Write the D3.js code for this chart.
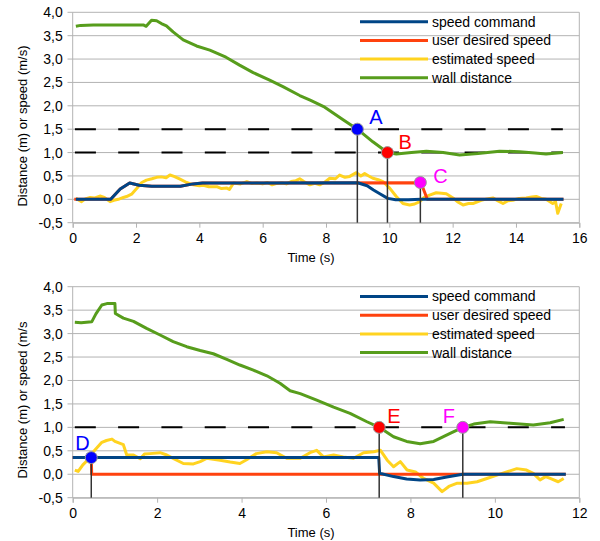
<!DOCTYPE html>
<html><head><meta charset="utf-8">
<script src="https://cdn.jsdelivr.net/npm/d3@7"></script>
<style>body{margin:0;background:#fff} text{font-family:"Liberation Sans",Arial,sans-serif;fill:#000}</style>
</head><body><svg id="c" width="600" height="541"></svg>
<script>
// ---------- shared ----------
const seriesNames = ["speed command", "user desired speed", "estimated speed", "wall distance"];
const yTickValues = [-0.5, 0, 0.5, 1, 1.5, 2, 2.5, 3, 3.5, 4];

// ---------- top chart data ----------
const topXTicks = [0, 2, 4, 6, 8, 10, 12, 14, 16];
const topCmdT = [0.1, 1.2, 1.5, 1.8, 2.1, 2.5, 3.4, 3.8, 4.1, 9.0, 9.3, 9.5, 9.7, 9.95, 10.2, 10.6, 11.0, 15.5];
const topCmdV = [0, 0, 0.22, 0.35, 0.30, 0.28, 0.28, 0.33, 0.35, 0.355, 0.29, 0.20, 0.12, 0.02, -0.01, -0.01, 0.0, 0.0];
const topUserT = [0.05, 1.2, 1.5, 1.8, 2.1, 2.5, 3.4, 3.8, 4.1, 11.0, 11.2, 15.5];
const topUserV = [0, 0, 0.22, 0.35, 0.30, 0.28, 0.28, 0.33, 0.35, 0.355, 0.0, 0.0];
const topEstT = [0.1, 0.28, 0.4, 0.55, 0.7, 0.86, 1.0, 1.18, 1.3, 1.44, 1.6, 1.7, 1.86, 2.02, 2.18, 2.33, 2.5, 2.65, 2.8, 2.95, 3.07, 3.2, 3.39, 3.6, 3.81, 4.0, 4.13, 4.3, 4.55, 4.7, 4.87, 4.95, 5.08, 5.3, 5.5, 5.65, 5.82, 6.0, 6.15, 6.3, 6.45, 6.6, 6.75, 6.9, 7.05, 7.17, 7.3, 7.49, 7.65, 7.8, 7.95, 8.12, 8.3, 8.43, 8.6, 8.75, 8.96, 9.1, 9.22, 9.35, 9.48, 9.65, 9.8, 10.01, 10.22, 10.43, 10.64, 10.8, 10.96, 11.1, 11.27, 11.48, 11.65, 11.8, 12.01, 12.15, 12.33, 12.5, 12.64, 12.9, 13.1, 13.27, 13.45, 13.59, 13.75, 13.9, 14.1, 14.32, 14.5, 14.64, 14.8, 14.95, 15.16, 15.25, 15.32, 15.43];
const topEstV = [0.02, -0.05, 0.01, 0.04, 0.03, 0.07, 0.04, -0.05, -0.02, 0.0, 0.04, 0.06, 0.11, 0.23, 0.36, 0.41, 0.44, 0.47, 0.48, 0.46, 0.52, 0.49, 0.43, 0.36, 0.31, 0.29, 0.30, 0.27, 0.27, 0.23, 0.24, 0.21, 0.35, 0.33, 0.38, 0.34, 0.35, 0.33, 0.36, 0.31, 0.34, 0.35, 0.33, 0.38, 0.40, 0.44, 0.38, 0.31, 0.34, 0.31, 0.36, 0.45, 0.44, 0.52, 0.47, 0.49, 0.57, 0.50, 0.55, 0.50, 0.45, 0.42, 0.38, 0.24, 0.06, -0.09, -0.12, -0.10, -0.05, 0.04, 0.09, 0.14, 0.13, 0.12, 0.03, -0.05, -0.12, -0.09, -0.09, -0.02, 0.01, 0.03, -0.04, -0.09, -0.03, -0.02, 0.02, 0.03, 0.05, 0.06, 0.02, 0.0, -0.09, -0.05, -0.30, -0.09];
const topWallT = [0.1, 0.25, 0.65, 1.5, 2.23, 2.32, 2.49, 2.65, 2.8, 2.96, 3.17, 3.49, 3.91, 4.33, 4.84, 5.27, 5.7, 6.22, 6.64, 7.17, 7.5, 7.96, 8.54, 8.99, 9.48, 9.94, 10.22, 10.7, 11.17, 11.7, 12.22, 12.8, 13.48, 14.11, 14.6, 14.95, 15.48];
const topWallV = [3.70, 3.72, 3.73, 3.73, 3.73, 3.70, 3.83, 3.82, 3.76, 3.71, 3.58, 3.41, 3.28, 3.19, 3.04, 2.87, 2.71, 2.55, 2.41, 2.22, 2.12, 1.97, 1.70, 1.50, 1.23, 1.00, 0.97, 1.00, 1.03, 1.00, 0.95, 0.98, 1.03, 1.02, 0.99, 0.97, 1.00];
const topDashLevels = [1.5, 1.0];
const topDashT = [0.07, 15.48];
const topMarkLabels = ["A", "B", "C"];
const topMarkT = [8.99, 9.94, 10.98];
const topMarkV = [1.5, 1.0, 0.36];

// ---------- bottom chart data ----------
const botXTicks = [0, 2, 4, 6, 8, 10, 12];
const botCmdT = [0.0, 7.25, 7.27, 7.6, 7.91, 8.23, 8.55, 8.86, 9.24, 11.68];
const botCmdV = [0.355, 0.355, 0.02, -0.05, -0.10, -0.12, -0.11, -0.06, 0.0, 0.0];
const botUserT = [0.0, 0.44, 0.45, 11.68];
const botUserV = [0.355, 0.355, 0.0, 0.0];
const botEstT = [0.05, 0.13, 0.24, 0.35, 0.49, 0.69, 0.8, 0.93, 1.0, 1.2, 1.28, 1.44, 1.6, 1.7, 1.83, 2.07, 2.23, 2.38, 2.62, 2.86, 3.02, 3.17, 3.49, 3.73, 3.96, 4.12, 4.35, 4.6, 4.83, 5.07, 5.39, 5.62, 5.78, 5.94, 6.18, 6.41, 6.65, 6.89, 7.13, 7.29, 7.45, 7.6, 7.76, 7.92, 8.12, 8.31, 8.55, 8.75, 8.91, 9.11, 9.34, 9.58, 9.81, 10.05, 10.28, 10.52, 10.75, 10.91, 11.07, 11.2, 11.31, 11.5, 11.63];
const botEstV = [0.09, 0.06, 0.20, 0.30, 0.48, 0.68, 0.72, 0.75, 0.70, 0.63, 0.41, 0.41, 0.33, 0.43, 0.44, 0.46, 0.41, 0.34, 0.23, 0.22, 0.27, 0.34, 0.30, 0.26, 0.23, 0.31, 0.44, 0.48, 0.46, 0.34, 0.34, 0.46, 0.51, 0.37, 0.41, 0.37, 0.34, 0.46, 0.48, 0.51, 0.30, 0.16, 0.27, 0.09, 0.05, -0.09, -0.19, -0.37, -0.26, -0.19, -0.19, -0.16, -0.09, -0.02, 0.05, 0.12, 0.09, 0.02, -0.12, -0.05, -0.09, -0.16, -0.09];
const botWallT = [0.05, 0.2, 0.45, 0.55, 0.69, 0.81, 1.0, 1.01, 1.2, 1.44, 1.75, 2.07, 2.38, 2.7, 3.02, 3.33, 3.65, 3.96, 4.28, 4.6, 4.91, 5.15, 5.39, 5.78, 6.18, 6.57, 6.97, 7.26, 7.6, 7.91, 8.23, 8.55, 8.94, 9.24, 9.5, 9.89, 10.36, 10.91, 11.31, 11.63];
const botWallV = [3.24, 3.23, 3.25, 3.42, 3.61, 3.64, 3.64, 3.43, 3.33, 3.26, 3.11, 2.97, 2.83, 2.72, 2.64, 2.57, 2.45, 2.33, 2.22, 2.10, 1.94, 1.78, 1.72, 1.58, 1.43, 1.30, 1.12, 1.00, 0.80, 0.70, 0.65, 0.70, 0.87, 1.00, 1.07, 1.12, 1.09, 1.05, 1.10, 1.17];
const botDashLevels = [1.0];
const botDashT = [0.05, 11.66];
const botMarkLabels = ["D", "E", "F"];
const botMarkT = [0.44, 7.26, 9.24];
const botMarkV = [0.355, 1.0, 1.0];

// ---------- styles ----------
const seriesColors = ["#004586", "#ff420e", "#ffd320", "#579d1c"];
const gridColor = "#b3b3b3";
const markColorsTop = ["#0000ff", "#ff0000", "#ff00ff"];
const markColorsBot = ["#0000ff", "#ff0000", "#ff00ff"];
const labelOffTop = [[12, -5], [11, -4], [13, 1]];
const labelOffBot = [[-16, -8], [8, -4], [-20, -4]];

const svg = d3.select("#c");
const fmt = v => v.toFixed(1).replace(".", ",");

function drawChart(o) {
  const x = d3.scaleLinear().domain(o.xDomain).range([72.7, 579.3]);
  const y = d3.scaleLinear().domain([-0.5, 4]).range([o.bottom, o.top]);
  const g = svg.append("g");

  // gridlines
  g.selectAll(".grid").data(yTickValues).enter().append("line")
    .attr("x1", 67.5).attr("x2", 579.3)
    .attr("y1", d => y(d)).attr("y2", d => y(d))
    .attr("stroke", gridColor).attr("stroke-width", 1);
  // right border
  g.append("line").attr("x1", 579.3).attr("x2", 579.3).attr("y1", o.top).attr("y2", o.bottom)
    .attr("stroke", gridColor);
  // left axis
  g.append("line").attr("x1", 72.7).attr("x2", 72.7).attr("y1", o.top).attr("y2", o.bottom)
    .attr("stroke", gridColor);

  // x axis via d3.axisBottom
  const xa = g.append("g").attr("transform", `translate(0,${o.bottom})`)
    .call(d3.axisBottom(x).tickValues(o.xTicks).tickSize(5).tickPadding(5).tickFormat(d => d));
  xa.select(".domain").attr("stroke", gridColor);
  xa.selectAll(".tick line").attr("stroke", gridColor);
  xa.selectAll(".tick text").attr("font-size", 14).attr("font-family", "Liberation Sans, Arial, sans-serif").attr("fill", "#000");

  // y labels
  const ya = g.append("g").attr("transform", "translate(72.7,0)")
    .call(d3.axisLeft(y).tickValues(yTickValues).tickSize(0).tickPadding(10).tickFormat(fmt));
  ya.select(".domain").remove();
  ya.selectAll(".tick text").attr("font-size", 14).attr("font-family", "Liberation Sans, Arial, sans-serif").attr("fill", "#000");

  // titles
  g.append("text").attr("x", 311).attr("y", o.bottom + 39).attr("text-anchor", "middle")
    .attr("font-size", 13).text("Time (s)");
  g.append("text").attr("transform", `translate(27,${o.yTitleC}) rotate(-90)`)
    .attr("text-anchor", "middle").attr("font-size", 13).text(o.yTitle);

  // dashed lines
  g.selectAll(".dash").data(o.dashLevels).enter().append("line")
    .attr("x1", x(o.dashT[0])).attr("x2", x(o.dashT[1]))
    .attr("y1", d => y(d)).attr("y2", d => y(d))
    .attr("stroke", "#000").attr("stroke-width", 2).attr("stroke-dasharray", "21,22.3");

  // series
  const line = d3.line().x(d => x(d[0])).y(d => y(d[1]));
  const order = [2, 1, 0, 3];
  order.forEach(i => {
    const s = o.series[i];
    const pts = s[0].map((t, k) => [t, s[1][k]]);
    g.append("path").attr("d", line(pts)).attr("fill", "none")
      .attr("stroke", seriesColors[i]).attr("stroke-width", 3).attr("stroke-linejoin", "round");
  });

  // marker drop lines
  o.markT.forEach((t, k) => {
    g.append("line").attr("x1", x(t)).attr("x2", x(t)).attr("y1", y(o.markV[k])).attr("y2", o.bottom)
      .attr("stroke", "#333").attr("stroke-width", 1.5);
  });
  o.markT.forEach((t, k) => {
    g.append("circle").attr("cx", x(t)).attr("cy", y(o.markV[k])).attr("r", 6)
      .attr("fill", o.markColors[k]).attr("stroke", "#999").attr("stroke-width", 1);
    g.append("text").attr("x", x(t) + o.labelOff[k][0]).attr("y", y(o.markV[k]) + o.labelOff[k][1])
      .attr("font-size", 20).attr("fill", o.markColors[k]).style("fill", o.markColors[k]).text(o.markLabels[k]);
  });

  // legend
  seriesNames.forEach((n, i) => {
    const ly = o.legendTop + i * 18.7;
    g.append("line").attr("x1", 360).attr("x2", 428).attr("y1", ly).attr("y2", ly)
      .attr("stroke", seriesColors[i]).attr("stroke-width", 3);
    g.append("text").attr("x", 432).attr("y", ly).attr("dy", "0.35em").attr("font-size", 14).text(n);
  });
}

drawChart({
  xDomain: [0, 16], xTicks: topXTicks, top: 12.3, bottom: 222.7,
  yTitle: "Distance (m) or speed (m/s)", yTitleC: 126,
  series: [[topCmdT, topCmdV], [topUserT, topUserV], [topEstT, topEstV], [topWallT, topWallV]],
  dashLevels: topDashLevels, dashT: topDashT,
  markT: topMarkT, markV: topMarkV, markLabels: topMarkLabels, markColors: markColorsTop, labelOff: labelOffTop,
  legendTop: 21.7
});
drawChart({
  xDomain: [0, 12], xTicks: botXTicks, top: 286.7, bottom: 497.7,
  yTitle: "Distance (m) or speed (m/s", yTitleC: 400,
  series: [[botCmdT, botCmdV], [botUserT, botUserV], [botEstT, botEstV], [botWallT, botWallV]],
  dashLevels: botDashLevels, dashT: botDashT,
  markT: botMarkT, markV: botMarkV, markLabels: botMarkLabels, markColors: markColorsBot, labelOff: labelOffBot,
  legendTop: 296.5
});
</script></body></html>
